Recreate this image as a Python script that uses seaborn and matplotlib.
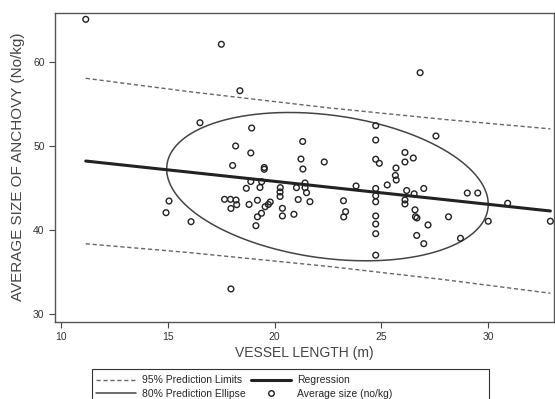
import numpy as np
import pandas as pd
import matplotlib
matplotlib.use("Agg")
import matplotlib.pyplot as plt
import seaborn as sns
from matplotlib.lines import Line2D
from matplotlib.patches import Rectangle

# ---- data ----
vessel_length = [11.16, 17.51, 18.38, 16.51, 18.93, 18.18, 18.89, 21.32, 21.24, 26.82,
                 24.74, 24.74, 27.56, 26.11, 26.50, 22.33, 17.96, 15.06, 14.92, 16.09,
                 18.04, 19.52, 19.52, 21.33, 18.89, 19.40, 18.68, 19.32, 20.27, 20.26,
                 20.26, 21.03, 21.43, 21.43, 21.50, 21.11, 21.66, 17.66, 17.94, 18.20,
                 18.23, 17.96, 18.81, 19.20, 19.80, 19.71, 19.56, 19.39, 19.20, 19.13,
                 20.37, 20.37, 20.91, 23.82, 23.23, 23.33, 23.24, 24.74, 24.91, 26.11,
                 25.69, 25.66, 25.70, 25.28, 24.74, 24.74, 24.74, 24.74, 24.74, 24.74,
                 24.74, 26.19, 26.54, 26.11, 26.11, 26.99, 26.58, 26.60, 26.67, 27.19,
                 26.66, 26.99, 28.15, 29.03, 29.52, 30.01, 28.71, 30.92, 32.92]
average_size = [65.08, 62.11, 56.58, 52.77, 52.14, 50.00, 49.17, 50.54, 48.45, 58.73,
                52.42, 50.71, 51.19, 49.23, 48.57, 48.10, 32.98, 43.45, 42.06, 40.99,
                47.68, 47.44, 47.23, 47.26, 45.77, 45.75, 44.96, 45.06, 45.04, 44.52,
                43.99, 45.04, 45.60, 45.04, 44.44, 43.63, 43.37, 43.65, 43.65, 43.57,
                43.01, 42.56, 43.04, 43.54, 43.33, 43.04, 42.77, 41.99, 41.57, 40.51,
                42.58, 41.67, 41.87, 45.24, 43.48, 42.18, 41.55, 48.42, 47.94, 48.10,
                47.38, 46.49, 45.95, 45.36, 44.94, 44.08, 43.36, 41.67, 40.71, 39.56,
                37.00, 44.70, 44.31, 43.57, 43.10, 44.94, 42.40, 41.58, 41.43, 40.60,
                39.35, 38.37, 41.57, 44.40, 44.40, 41.04, 39.01, 43.18, 41.04]

reg_x = [11.16, 32.92]
reg_y = [48.21, 42.26]

limit_x = [11.16, 16.0, 22.5, 28.0, 32.92]
upper_limit = [58.06, 56.47, 54.55, 53.15, 52.04]
lower_limit = [38.36, 37.31, 35.67, 34.07, 32.47]

# 80% prediction ellipse: centre, half extents, correlation
ellipse_center = [22.48, 45.16]
ellipse_half = [7.53, 8.83]
ellipse_corr = -0.238

x_ticks = [10, 15, 20, 25, 30]
y_ticks = [30, 40, 50, 60]

# ---- figure ----
sns.set_style("ticks")
plt.rcParams["font.family"] = ["Liberation Sans", "DejaVu Sans"]

fig = plt.figure(figsize=(5.55, 3.99), dpi=100)
ax = fig.add_axes([55 / 555, 1 - 321.7 / 399, (554 - 55) / 555, (321.7 - 12.7) / 399])

df = pd.DataFrame({"x": vessel_length, "y": average_size})
lim = pd.DataFrame({"x": limit_x, "up": upper_limit, "lo": lower_limit})
reg = pd.DataFrame({"x": reg_x, "y": reg_y})

t = np.linspace(0, 2 * np.pi, 400)
r = ellipse_corr
ell = pd.DataFrame({
    "x": ellipse_center[0] + ellipse_half[0] * np.cos(t),
    "y": ellipse_center[1] + ellipse_half[1] * (r * np.cos(t) + np.sqrt(1 - r * r) * np.sin(t)),
})

dash = (0, (3, 2))
sns.lineplot(data=lim, x="x", y="up", ax=ax, color="#666666", lw=1.0, linestyle=dash,
             sort=False, estimator=None)
sns.lineplot(data=lim, x="x", y="lo", ax=ax, color="#666666", lw=1.0, linestyle=dash,
             sort=False, estimator=None)
sns.lineplot(data=ell, x="x", y="y", ax=ax, color="#444444", lw=1.1,
             sort=False, estimator=None)
sns.lineplot(data=reg, x="x", y="y", ax=ax, color="#222222", lw=2.2,
             sort=False, estimator=None)
sns.scatterplot(data=df, x="x", y="y", ax=ax, marker="o", s=17,
                facecolor="none", edgecolor="#222222", linewidth=1.0, zorder=5)

ax.set_xlim(9.72, 33.09)
ax.set_ylim(29.08, 65.87)
ax.set_xticks(x_ticks)
ax.set_yticks(y_ticks)
ax.tick_params(labelsize=7.5, length=4, width=0.8, color="#444444", labelcolor="#333333")
for s in ax.spines.values():
    s.set_color("#555555")
    s.set_linewidth(1.0)

ax.set_xlabel("VESSEL LENGTH (m)", fontsize=10, color="#444444", labelpad=3)
ax.set_ylabel("AVERAGE SIZE OF ANCHOVY (No/kg)", fontsize=11, color="#444444", labelpad=6)

handles = [
    Line2D([], [], color="#666666", lw=1.0, linestyle=dash),
    Line2D([], [], color="#444444", lw=1.1),
    Line2D([], [], color="#222222", lw=2.2),
    Line2D([], [], color="#222222", lw=0, marker="o", markersize=4,
           markerfacecolor="none", markeredgewidth=1.0),
]
labels = ["95% Prediction Limits", "80% Prediction Ellipse", "Regression", "Average size (no/kg)"]
leg = fig.legend(handles, labels, ncol=2, loc="upper left",
                 bbox_to_anchor=(92 / 555, 1 - 371 / 399), fontsize=7.5,
                 frameon=False,
                 handlelength=3.8, handletextpad=0.6, columnspacing=0.5,
                 borderpad=0.4, labelspacing=0.35, borderaxespad=0)
fig.add_artist(Rectangle((92 / 555, 1 - 402 / 399), (489 - 92) / 555, 33 / 399,
                         transform=fig.transFigure, fill=False, edgecolor="#333333",
                         linewidth=0.8, clip_on=False))

fig.savefig("out.png", dpi=100)
